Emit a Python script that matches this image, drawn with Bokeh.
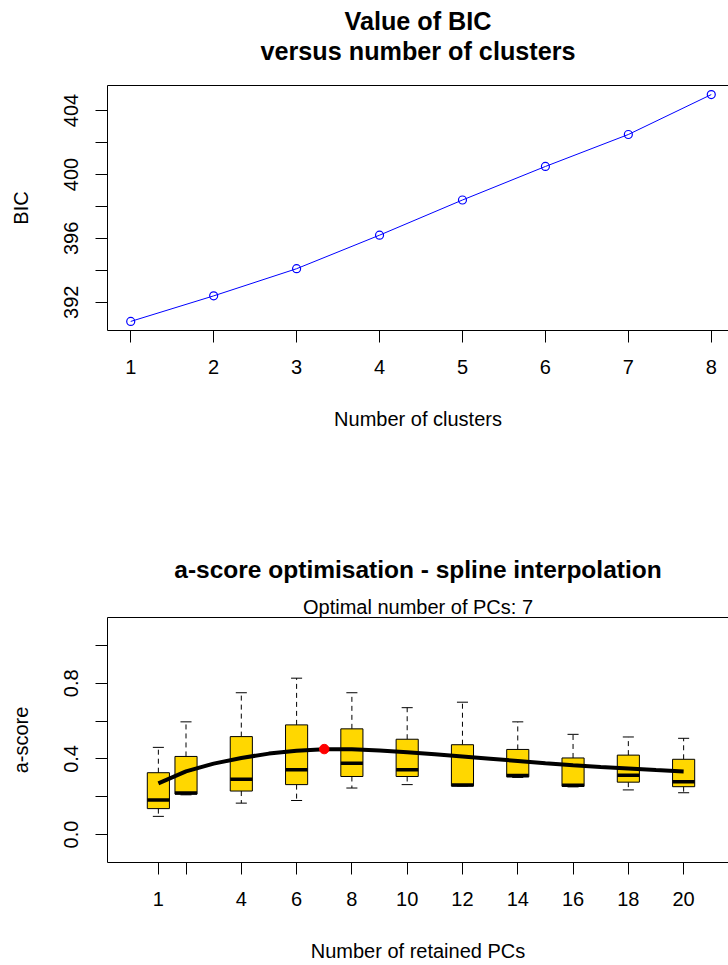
from bokeh.plotting import figure
from bokeh.layouts import column
from bokeh.models import FixedTicker, LinearAxis, Title, Range1d, NumeralTickFormatter
from bokeh.embed import file_html
from bokeh.resources import INLINE

# ---------------- data: top panel (BIC) ----------------
n_clusters = [1, 2, 3, 4, 5, 6, 7, 8]
bic = [390.8, 392.4, 394.1, 396.2, 398.4, 400.5, 402.5, 405.0]
bic_major_ticks = [392, 396, 400, 404]
bic_minor_ticks = [394, 398, 402]
cluster_ticks = [1, 2, 3, 4, 5, 6, 7, 8]

# ---------------- data: bottom panel (a-score) ----------------
n_pcs = [1, 2, 4, 6, 8, 10, 12, 14, 16, 18, 20]
box_low = [0.096, 0.210, 0.166, 0.180, 0.246, 0.264, 0.257, 0.302, 0.252, 0.236, 0.221]
box_q1 = [0.137, 0.214, 0.230, 0.264, 0.307, 0.307, 0.257, 0.305, 0.255, 0.277, 0.253]
box_med = [0.182, 0.219, 0.293, 0.343, 0.377, 0.343, 0.262, 0.312, 0.260, 0.314, 0.279]
box_q3 = [0.327, 0.413, 0.518, 0.580, 0.559, 0.504, 0.475, 0.450, 0.405, 0.420, 0.398]
box_high = [0.461, 0.596, 0.750, 0.827, 0.750, 0.671, 0.700, 0.596, 0.530, 0.516, 0.509]
spline_pc = [1, 2, 3, 4, 5, 6, 7, 8, 9, 10, 11, 12, 13, 14, 15, 16, 17, 18, 19, 20]
spline_score = [0.271, 0.334, 0.375, 0.405, 0.428, 0.443, 0.451, 0.451, 0.445, 0.435,
                0.424, 0.413, 0.401, 0.389, 0.377, 0.366, 0.357, 0.349, 0.341, 0.334]
opt_pc = 7
opt_score = 0.452
pc_major_ticks = [1, 4, 6, 8, 10, 12, 14, 16, 18, 20]
pc_minor_ticks = [2]
score_major_ticks = [0.0, 0.4, 0.8]
score_minor_ticks = [0.2, 0.6, 1.0]
score_lim = [-0.1, 1.1]
pc_lim = [-0.84, 21.84]

FONT = "Liberation Sans"
FIG_W = 728
LEFT = 107
FULL_FRAME_W = 627   # frame width of the original (partly cut at the window edge)
VIS_FRAME_W = FIG_W - LEFT


def r_lim(vals):
    lo, hi = min(vals), max(vals)
    d = (hi - lo) * 0.04
    return lo - d, hi + d


def visible_range(lo, hi):
    return Range1d(lo, lo + (hi - lo) * VIS_FRAME_W / FULL_FRAME_W)


def style(p, xa, ya, x_label, y_label):
    p.xgrid.visible = False
    p.ygrid.visible = False
    p.outline_line_color = None
    p.background_fill_color = "white"
    p.border_fill_color = "white"
    for ax in (xa, ya):
        ax.axis_line_color = "black"
        ax.axis_line_width = 1
        ax.major_tick_line_color = "black"
        ax.minor_tick_line_color = "black"
        ax.major_tick_out = 12
        ax.major_tick_in = 0
        ax.minor_tick_out = 12
        ax.minor_tick_in = 0
        ax.major_label_text_font = FONT
        ax.major_label_text_font_size = "20px"
        ax.major_label_text_color = "black"
        ax.major_label_standoff = 17
        ax.axis_label_text_font = FONT
        ax.axis_label_text_font_size = "20px"
        ax.axis_label_text_font_style = "normal"
        ax.axis_label_text_color = "black"
    xa.axis_label = x_label
    ya.axis_label = y_label
    xa.axis_label_standoff = 31
    ya.axis_label_standoff = 30
    ya.major_label_orientation = "vertical"
    top = LinearAxis(ticker=FixedTicker(ticks=[]), major_tick_out=0, major_tick_in=0,
                     minor_tick_out=0, minor_tick_in=0, axis_line_color="black",
                     major_label_standoff=0)
    p.add_layout(top, "above")


def add_title(p, text, size, bold, standoff):
    p.add_layout(Title(text=text, align="center", text_font=FONT,
                       text_font_size=size,
                       text_font_style="bold" if bold else "normal",
                       text_color="black", standoff=standoff), "above")


# ---------------- top figure ----------------
bx0, bx1 = r_lim(n_clusters)
by0, by1 = r_lim(bic)
p1 = figure(width=FIG_W, height=538, output_backend="svg", toolbar_location=None,
            title_location=None,
            x_range=visible_range(bx0, bx1), y_range=Range1d(by0, by1),
            min_border_left=LEFT, min_border_right=0, min_border_top=85,
            min_border_bottom=208)
p1.xaxis.ticker = FixedTicker(ticks=cluster_ticks)
p1.yaxis.ticker = FixedTicker(ticks=bic_major_ticks, minor_ticks=bic_minor_ticks)
style(p1, p1.below[0], p1.left[0], "Number of clusters", "BIC")
p1.line(n_clusters, bic, line_color="blue", line_width=1)
p1.scatter(n_clusters, bic, marker="circle", size=8, fill_color=None,
           line_color="blue", line_width=1.2)
add_title(p1, "versus number of clusters", "25.2px", True, 41)
add_title(p1, "Value of BIC", "25.2px", True, -40)

# ---------------- bottom figure ----------------
sy0, sy1 = r_lim(score_lim)
p2 = figure(width=FIG_W, height=427, output_backend="svg", toolbar_location=None,
            title_location=None,
            x_range=visible_range(pc_lim[0], pc_lim[1]), y_range=Range1d(sy0, sy1),
            min_border_left=LEFT, min_border_right=0, min_border_top=79,
            min_border_bottom=103)
p2.xaxis.ticker = FixedTicker(ticks=pc_major_ticks, minor_ticks=pc_minor_ticks)
p2.yaxis.ticker = FixedTicker(ticks=score_major_ticks, minor_ticks=score_minor_ticks)
p2.yaxis.formatter = NumeralTickFormatter(format="0.0")
style(p2, p2.below[0], p2.left[0], "Number of retained PCs", "a-score")

BOX_W = 0.8
CAP_W = 0.4
cap_l = [x - CAP_W / 2 for x in n_pcs]
cap_r = [x + CAP_W / 2 for x in n_pcs]
med_l = [x - BOX_W / 2 for x in n_pcs]
med_r = [x + BOX_W / 2 for x in n_pcs]

p2.segment(x0=n_pcs, y0=box_q3, x1=n_pcs, y1=box_high, line_color="black",
           line_width=1, line_dash="5 4")
p2.segment(x0=n_pcs, y0=box_q1, x1=n_pcs, y1=box_low, line_color="black",
           line_width=1, line_dash="5 4")
p2.segment(x0=cap_l, y0=box_high, x1=cap_r, y1=box_high, line_color="black", line_width=1)
p2.segment(x0=cap_l, y0=box_low, x1=cap_r, y1=box_low, line_color="black", line_width=1)
p2.vbar(x=n_pcs, width=BOX_W, bottom=box_q1, top=box_q3, fill_color="#FFD700",
        line_color="black", line_width=1)
p2.segment(x0=med_l, y0=box_med, x1=med_r, y1=box_med, line_color="black",
           line_width=3.5, line_cap="butt")
p2.line(spline_pc, spline_score, line_color="black", line_width=4)
p2.scatter([opt_pc], [opt_score], marker="circle", size=9.5, fill_color="red",
           line_color="red")
add_title(p2, "Optimal number of PCs: 7", "20px", False, -1)
add_title(p2, "a-score optimisation - spline interpolation", "24.5px", True, 24)

layout = column(p1, p2)
open("out.html", "w").write(file_html(layout, INLINE))
